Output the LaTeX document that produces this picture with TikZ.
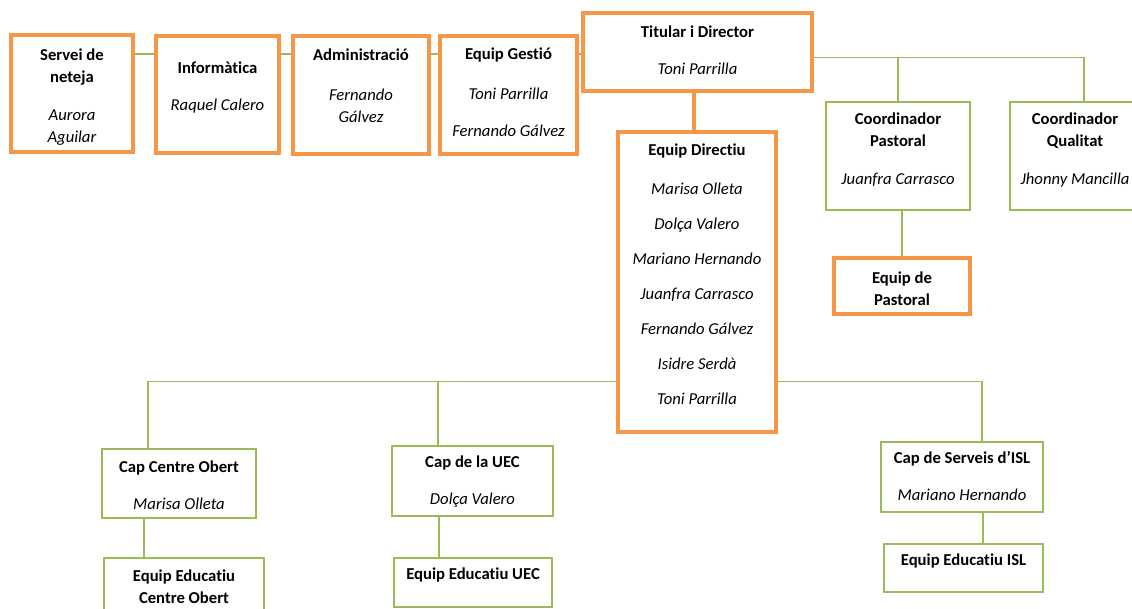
\documentclass[tikz,border=0pt]{standalone}
\usepackage{fontspec}
\setmainfont{Carlito}[Ligatures=NoCommon]
\usetikzlibrary{calc}
\definecolor{orgorange}{HTML}{F79646}
\definecolor{orggreen}{HTML}{9BBB59}
\newdimen\pxu \pxu=0.75pt
\newcommand{\orgcell}[4][23]{\parbox[c][#3\pxu][t]{#2\pxu}{\centering\rule{0pt}{#1\pxu}#4}}

\begin{document}
\begin{tikzpicture}[x=0.75pt,y=-0.75pt,
  every node/.style={rectangle, inner sep=0pt, fill=white, font=\fontsize{12.5}{16.5}\selectfont},
  orangebox/.style={draw=orgorange, line width=2.3pt},
  greenbox/.style={draw=orggreen, line width=1.5pt},
  link/.style={draw=orggreen, line width=1.1pt},
  orangelink/.style={draw=orgorange, line width=2.3pt}]
\useasboundingbox (0,0) rectangle (1132,608);
\fill[white] (0,0) rectangle (1132,608);

\node[orangebox] (neteja) at (72,93.5) {\orgcell[25]{122}{117}{\textbf{Servei de\\neteja}\\[16\pxu]\textit{Aurora\\Aguilar}}};
\node[orangebox] (informatica) at (217.5,94.5) {\orgcell[37]{123}{117}{\textbf{Informàtica}\\[15\pxu]\textit{Raquel Calero}}};
\node[orangebox] (administracio) at (361,95) {\orgcell[24]{136}{118}{\textbf{Administració}\\[18\pxu]\textit{Fernando\\Gálvez}}};
\node[orangebox] (gestio) at (508.5,95) {\orgcell{137}{118}{\textbf{Equip Gestió}\\[18\pxu]\textit{Toni Parrilla}\\[15\pxu]\textit{Fernando Gálvez}}};
\node[orangebox] (titular) at (697.5,52) {\orgcell[24]{229}{78}{\textbf{Titular i Director}\\[15\pxu]\textit{Toni Parrilla}}};
\node[orangebox] (directiu) at (697,282) {\orgcell{158}{300}{\textbf{Equip Directiu}\\[17\pxu]\textit{Marisa Olleta}\\[13\pxu]\textit{Dolça Valero}\\[13\pxu]\textit{Mariano Hernando}\\[13\pxu]\textit{Juanfra Carrasco}\\[13\pxu]\textit{Fernando Gálvez}\\[13\pxu]\textit{Isidre Serdà}\\[13\pxu]\textit{Toni Parrilla}}};
\node[greenbox] (coordpast) at (898,156) {\orgcell[22]{144}{108}{\textbf{Coordinador\\Pastoral}\\[16\pxu]\textit{Juanfra Carrasco}}};
\node[greenbox] (coordqual) at (1075,156) {\orgcell[22]{130}{108}{\textbf{Coordinador\\Qualitat}\\[16\pxu]\textit{Jhonny Mancilla}}};
\node[orangebox] (eqpast) at (902,286) {\orgcell[25]{136}{56}{\textbf{Equip de\\Pastoral}}};
\node[greenbox] (capco) at (179,483.5) {\orgcell{154}{69}{\textbf{Cap Centre Obert}\\[15\pxu]\textit{Marisa Olleta}}};
\node[greenbox] (eqco) at (184,591) {\orgcell{160}{66}{\textbf{Equip Educatiu\\Centre Obert}}};
\node[greenbox] (capuec) at (472.5,481) {\orgcell[21]{161}{70}{\textbf{Cap de la UEC}\\[15\pxu]\textit{Dolça Valero}}};
\node[greenbox] (equec) at (473,582.5) {\orgcell[21]{158}{49}{\textbf{Equip Educatiu UEC}}};
\node[greenbox] (capisl) at (962,477) {\orgcell[21]{162}{70}{\textbf{Cap de Serveis d’ISL}\\[15\pxu]\textit{Mariano Hernando}}};
\node[greenbox] (eqisl) at (963.5,568) {\orgcell[21]{159}{48}{\textbf{Equip Educatiu ISL}}};

\coordinate (toprow) at (0,54);
\coordinate (rightbus) at (0,57.5);
\coordinate (lowbus) at (0,381.5);

\draw[link] (neteja.east |- toprow) to (informatica.west |- toprow);
\draw[link] (informatica.east |- toprow) to (administracio.west |- toprow);
\draw[link] (administracio.east |- toprow) to (gestio.west |- toprow);
\draw[link] (gestio.east |- toprow) to (titular.west |- toprow);
\draw[orangelink] ($(directiu.north)+(-3,0)$) to ($(directiu.north |- titular.south)+(-3,0)$);
\draw[link] (titular.east |- rightbus) -| (coordpast.north);
\draw[link] (coordpast.north |- rightbus) -| ($(coordqual.north)+(9,0)$);
\draw[link] (eqpast.north |- coordpast.south) to (eqpast.north);
\draw[link] (directiu.west |- lowbus) -| ($(capco.north)+(-31,0)$);
\draw[link] ($(capuec.north |- lowbus)+(-34.5,0)$) to ($(capuec.north)+(-34.5,0)$);
\draw[link] (directiu.east |- lowbus) -| ($(capisl.north)+(20,0)$);
\draw[link] ($(capco.south)+(-35,0)$) to ($(eqco.north -| capco.south)+(-35,0)$);
\draw[link] ($(capuec.south)+(-33.5,0)$) to ($(equec.north -| capuec.south)+(-33.5,0)$);
\draw[link] ($(capisl.south)+(21,0)$) to ($(eqisl.north -| capisl.south)+(21,0)$);
\end{tikzpicture}
\end{document}
